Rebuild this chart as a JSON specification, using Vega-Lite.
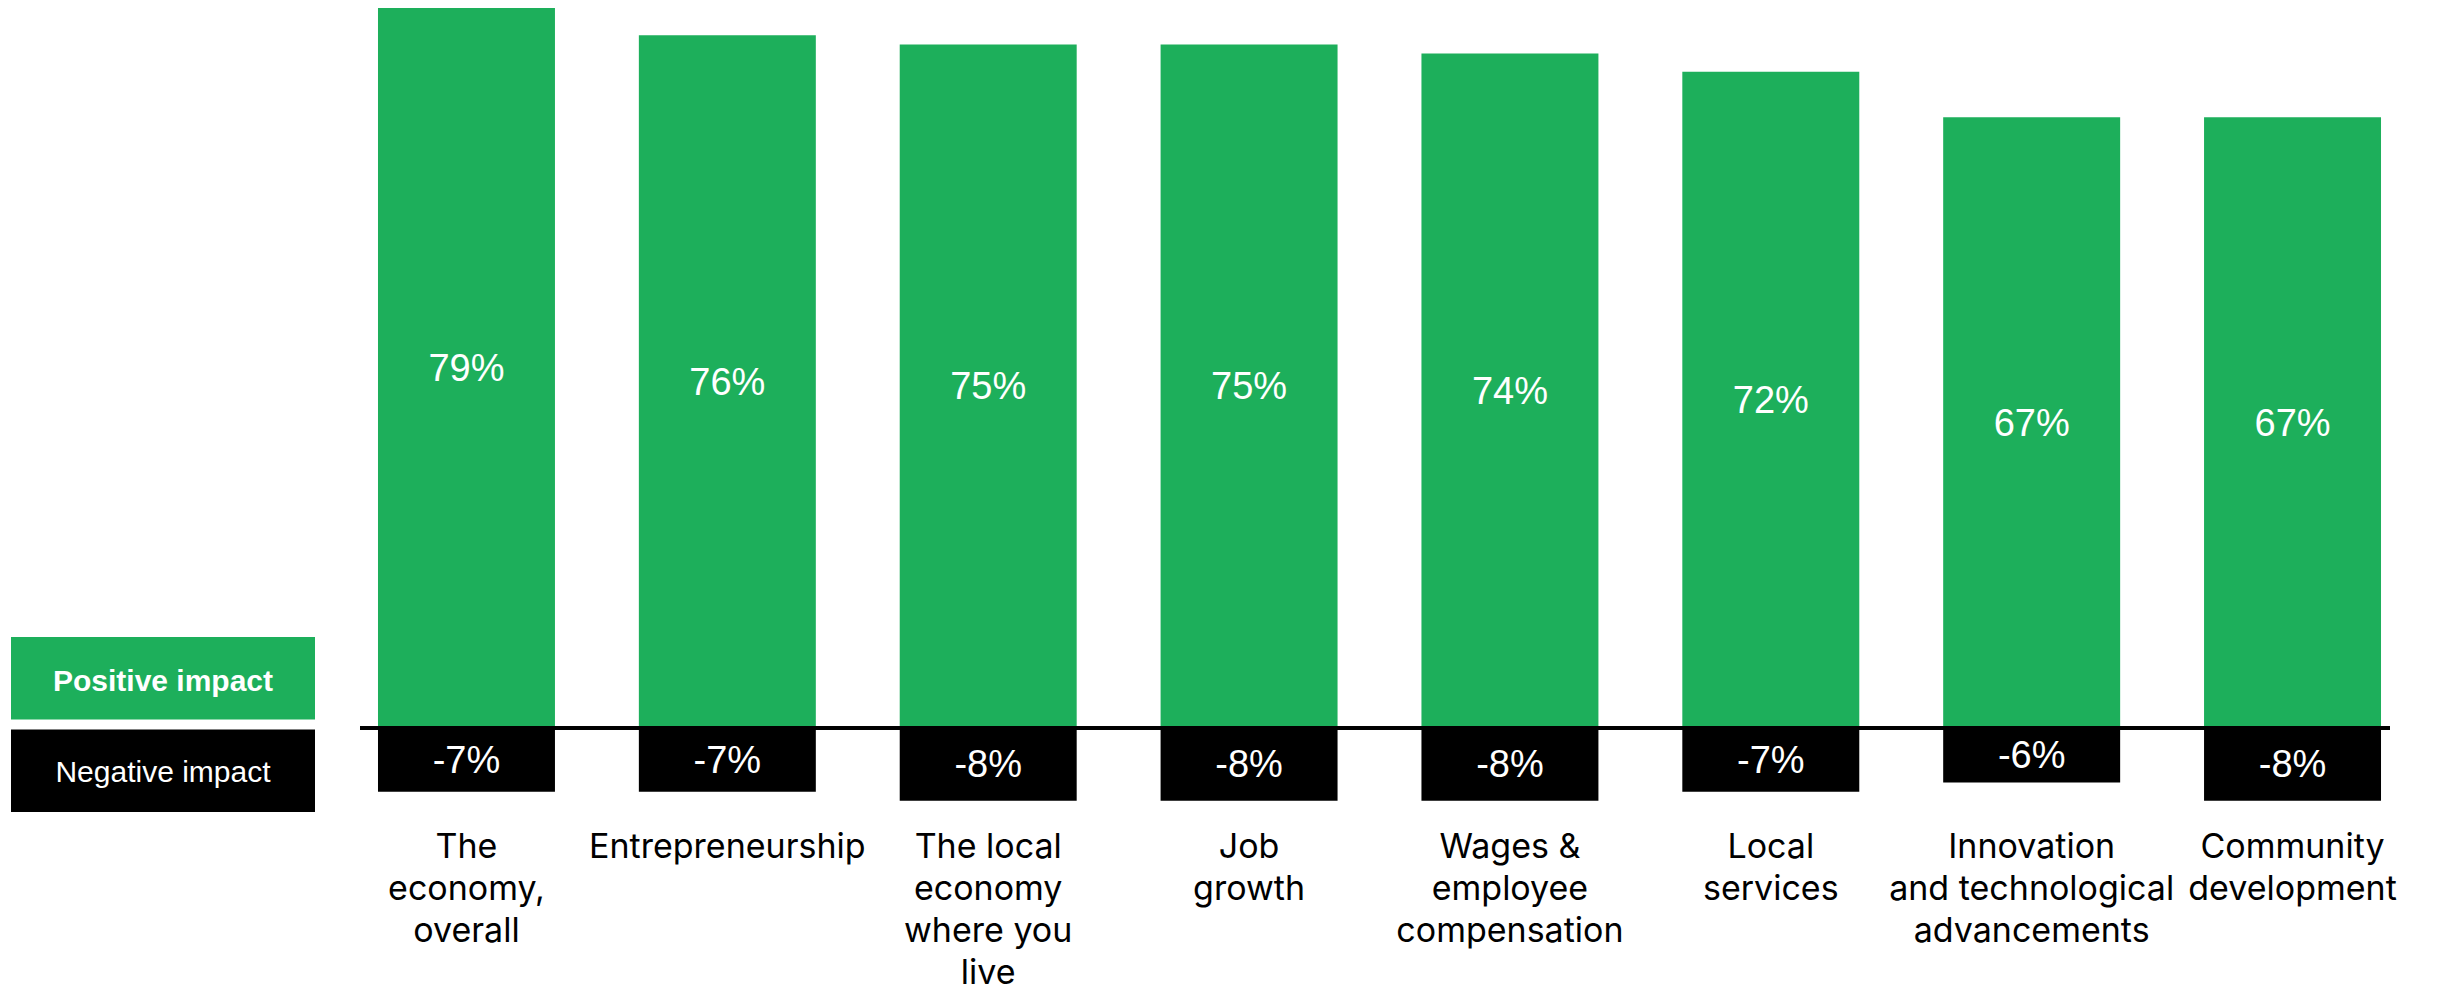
{
  "$schema": "https://vega.github.io/schema/vega-lite/v6.json",
  "padding": {"left": 11, "top": 0, "right": 0, "bottom": 0},
  "autosize": {"type": "pad"},
  "background": "white",
  "config": {"view": {"stroke": null}, "concat": {"spacing": 43}},
  "datasets": {
    "impact": [
      {"category": "The\neconomy,\noverall", "impact": "Positive impact", "value": 79},
      {"category": "Entrepreneurship", "impact": "Positive impact", "value": 76},
      {"category": "The local\neconomy\nwhere you\nlive", "impact": "Positive impact", "value": 75},
      {"category": "Job\ngrowth", "impact": "Positive impact", "value": 75},
      {"category": "Wages &\nemployee\ncompensation", "impact": "Positive impact", "value": 74},
      {"category": "Local\nservices", "impact": "Positive impact", "value": 72},
      {"category": "Innovation\nand technological\nadvancements", "impact": "Positive impact", "value": 67},
      {"category": "Community\ndevelopment", "impact": "Positive impact", "value": 67},
      {"category": "The\neconomy,\noverall", "impact": "Negative impact", "value": -7},
      {"category": "Entrepreneurship", "impact": "Negative impact", "value": -7},
      {"category": "The local\neconomy\nwhere you\nlive", "impact": "Negative impact", "value": -8},
      {"category": "Job\ngrowth", "impact": "Negative impact", "value": -8},
      {"category": "Wages &\nemployee\ncompensation", "impact": "Negative impact", "value": -8},
      {"category": "Local\nservices", "impact": "Negative impact", "value": -7},
      {"category": "Innovation\nand technological\nadvancements", "impact": "Negative impact", "value": -6},
      {"category": "Community\ndevelopment", "impact": "Negative impact", "value": -8}
    ],
    "legend": [
      {"impact": "Positive impact"},
      {"impact": "Negative impact"}
    ]
  },
  "hconcat": [
    {
      "width": 304,
      "height": 819,
      "data": {"name": "legend"},
      "encoding": {
        "y": {
          "field": "impact",
          "type": "nominal",
          "scale": {"domain": ["Positive impact", "Negative impact"], "range": [637, 812], "paddingInner": 0.11, "paddingOuter": 0},
          "axis": null
        }
      },
      "layer": [
        {
          "mark": {"type": "bar"},
          "encoding": {
            "color": {
              "field": "impact",
              "type": "nominal",
              "scale": {"domain": ["Positive impact", "Negative impact"], "range": ["#1DAF5B", "#000000"]},
              "legend": null
            }
          }
        },
        {
          "transform": [{"filter": "datum.impact === 'Positive impact'"}],
          "mark": {"type": "text", "color": "white", "font": "Liberation Sans", "fontSize": 30, "fontWeight": "bold", "baseline": "middle", "dy": 4},
          "encoding": {"text": {"field": "impact"}}
        },
        {
          "transform": [{"filter": "datum.impact === 'Negative impact'"}],
          "mark": {"type": "text", "color": "white", "font": "Liberation Sans", "fontSize": 30, "baseline": "middle", "dy": 2},
          "encoding": {"text": {"field": "impact"}}
        }
      ]
    },
    {
      "width": 2030,
      "height": 819,
      "data": {"name": "impact"},
      "layer": [
        {
          "mark": {"type": "bar"},
          "encoding": {
            "x": {
              "field": "category",
              "type": "nominal",
              "sort": null,
              "scale": {"paddingInner": 0.3216, "paddingOuter": 0.0517, "align": 0.667},
              "axis": {
                "title": null,
                "domain": false,
                "ticks": false,
                "tickSize": 0,
                "labelAngle": 0,
                "labelFont": "Inter",
                "labelFontSize": 34,
                "labelColor": "black",
                "labelPadding": 38,
                "labelBaseline": "alphabetic",
                "labelLineHeight": 42,
                "labelLimit": 0,
                "labelOverlap": false,
                "labelExpr": "split(datum.label, '\\n')"
              }
            },
            "y": {
              "field": "value",
              "type": "quantitative",
              "scale": {"domain": [-10, 79.88], "nice": false},
              "axis": null
            },
            "color": {
              "field": "impact",
              "type": "nominal",
              "scale": {"domain": ["Positive impact", "Negative impact"], "range": ["#1DAF5B", "#000000"]},
              "legend": null
            }
          }
        },
        {
          "mark": {"type": "rule", "color": "black", "strokeWidth": 2.5},
          "encoding": {"y": {"datum": 0, "type": "quantitative"}}
        },
        {
          "transform": [
            {"calculate": "datum.value / 2", "as": "mid"},
            {"calculate": "datum.value + '%'", "as": "label"}
          ],
          "mark": {"type": "text", "color": "white", "font": "Liberation Sans", "fontSize": 38, "baseline": "middle", "dy": 2},
          "encoding": {
            "x": {
              "field": "category",
              "type": "nominal",
              "sort": null,
              "scale": {"paddingInner": 0.3216, "paddingOuter": 0.0517, "align": 0.667},
              "axis": {
                "title": null,
                "domain": false,
                "ticks": false,
                "tickSize": 0,
                "labelAngle": 0,
                "labelFont": "Inter",
                "labelFontSize": 34,
                "labelColor": "black",
                "labelPadding": 38,
                "labelBaseline": "alphabetic",
                "labelLineHeight": 42,
                "labelLimit": 0,
                "labelOverlap": false,
                "labelExpr": "split(datum.label, '\\n')"
              }
            },
            "y": {"field": "mid", "type": "quantitative"},
            "text": {"field": "label"}
          }
        }
      ]
    }
  ]
}
